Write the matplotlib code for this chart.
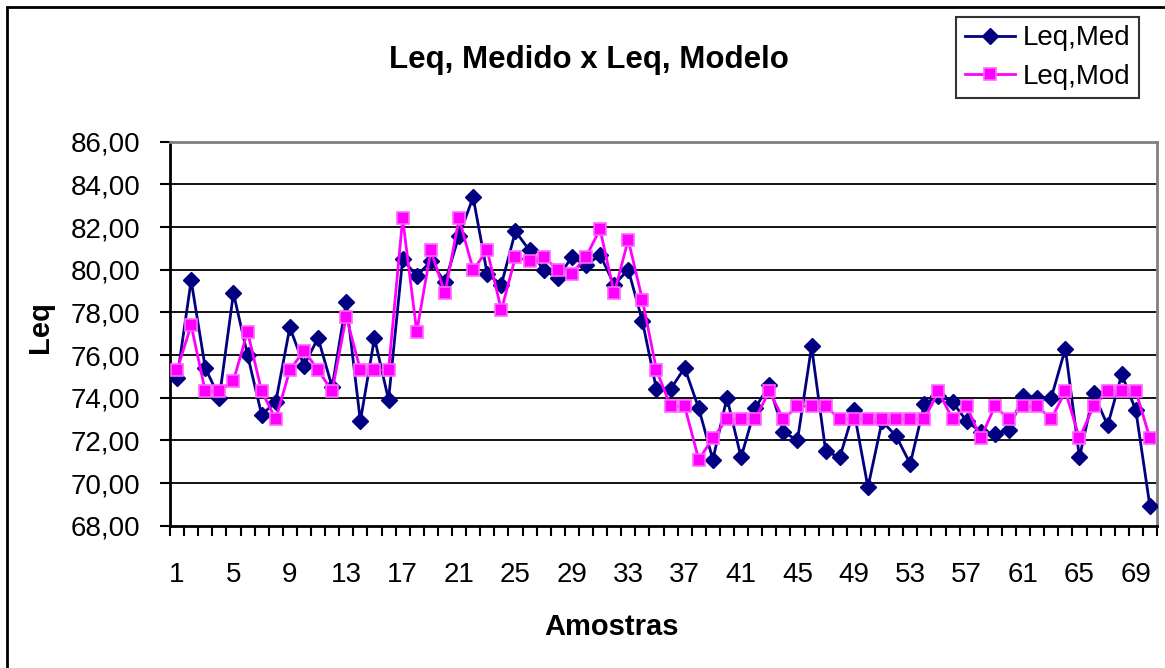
import matplotlib
matplotlib.use("Agg")
import matplotlib.pyplot as plt
from matplotlib.patches import Rectangle
from matplotlib.ticker import FuncFormatter, FixedLocator

plt.rcParams["font.family"] = ["Liberation Sans", "DejaVu Sans"]

# Valores (amostras 1 a 70)
amostras = list(range(1, 71))

leq_med = [
    74.9, 79.5, 75.4, 74.0, 78.9, 76.0, 73.2, 73.8, 77.3, 75.5,
    76.8, 74.5, 78.5, 72.9, 76.8, 73.9, 80.5, 79.7, 80.4, 79.4,
    81.6, 83.4, 79.8, 79.3, 81.8, 80.9, 80.0, 79.6, 80.6, 80.2,
    80.7, 79.3, 80.0, 77.6, 74.4, 74.4, 75.4, 73.5, 71.1, 74.0,
    71.2, 73.5, 74.6, 72.4, 72.0, 76.4, 71.5, 71.2, 73.4, 69.8,
    72.9, 72.2, 70.9, 73.7, 74.1, 73.8, 72.9, 72.4, 72.3, 72.5,
    74.1, 74.0, 74.0, 76.3, 71.2, 74.2, 72.7, 75.1, 73.4, 68.9,
]

leq_mod = [
    75.3, 77.4, 74.3, 74.3, 74.8, 77.1, 74.3, 73.0, 75.3, 76.2,
    75.3, 74.3, 77.8, 75.3, 75.3, 75.3, 82.4, 77.1, 80.9, 78.9,
    82.4, 80.0, 80.9, 78.1, 80.6, 80.4, 80.6, 80.0, 79.8, 80.6,
    81.9, 78.9, 81.4, 78.6, 75.3, 73.6, 73.6, 71.1, 72.1, 73.0,
    73.0, 73.0, 74.3, 73.0, 73.6, 73.6, 73.6, 73.0, 73.0, 73.0,
    73.0, 73.0, 73.0, 73.0, 74.3, 73.0, 73.6, 72.1, 73.6, 73.0,
    73.6, 73.6, 73.0, 74.3, 72.1, 73.6, 74.3, 74.3, 74.3, 72.1,
]

y_ticks = [68, 70, 72, 74, 76, 78, 80, 82, 84, 86]
x_labels = list(range(1, 71, 4))

W, H = 1165, 668


def main():
    fig = plt.figure(figsize=(W / 100, H / 100), dpi=100)

    # área do gráfico em pixels: x 170..1157, y 141.7..525.7
    ax = fig.add_axes([170 / W, 1 - 525.7 / H, (1157 - 170) / W, (525.7 - 141.7) / H])

    ax.plot(amostras, leq_med, color="#000080", lw=2, marker="D", ms=8.5,
            mfc="#000080", mec="#000080", label="Leq,Med", zorder=3)
    ax.plot(amostras, leq_mod, color="#ff00ff", lw=2, marker="s", ms=8,
            mfc="#ff00ff", mec="#ff66ff", mew=1.2, label="Leq,Mod", zorder=4)

    ax.set_xlim(0.5, 70.5)
    ax.set_ylim(68, 86)
    ax.set_yticks(y_ticks)
    ax.yaxis.set_major_formatter(FuncFormatter(lambda v, p: f"{v:.2f}".replace(".", ",")))
    for v in y_ticks[1:-1]:
        ax.axhline(v, color="black", lw=1.3, zorder=1)

    ax.xaxis.set_major_locator(FixedLocator(x_labels))
    ax.xaxis.set_minor_locator(FixedLocator([i + 0.5 for i in range(0, 71)]))
    ax.tick_params(axis="x", which="major", length=0, pad=26, labelsize=20)
    ax.tick_params(axis="x", which="minor", length=7.5, width=1.5, direction="out")
    ax.tick_params(axis="y", length=7.5, width=1.5, direction="out", pad=14, labelsize=20)

    for side in ["left", "bottom"]:
        ax.spines[side].set_linewidth(2)
        ax.spines[side].set_color("black")
    for side in ["top", "right"]:
        ax.spines[side].set_linewidth(2)
        ax.spines[side].set_color("#808080")

    fig.text(40 / W, 1 - 327 / H, "Leq", fontsize=21, fontweight="bold",
             rotation=90, ha="center", va="center")
    fig.text(612 / W, 1 - 627 / H, "Amostras", fontsize=21, fontweight="bold",
             ha="center", va="center")
    fig.text(589 / W, 1 - 60 / H, "Leq, Medido x Leq, Modelo", fontsize=22.5,
             fontweight="bold", ha="center", va="center")

    leg = fig.legend(loc="upper right", bbox_to_anchor=(1139 / W, 1 - 17 / H),
                     fontsize=20, frameon=True, fancybox=False, handlelength=1.8,
                     handletextpad=0.3, borderpad=0.3, labelspacing=0.45,
                     borderaxespad=0)
    leg.get_frame().set_edgecolor("black")
    leg.get_frame().set_linewidth(1.5)

    # moldura externa do gráfico
    fig.patches.append(Rectangle((7 / W, -0.05), 1.1, 1 - 7 / H + 0.05,
                                 transform=fig.transFigure, fill=False,
                                 edgecolor="black", lw=2, zorder=0))

    fig.savefig("out.png", dpi=100)
    plt.close(fig)


if __name__ == "__main__":
    main()
